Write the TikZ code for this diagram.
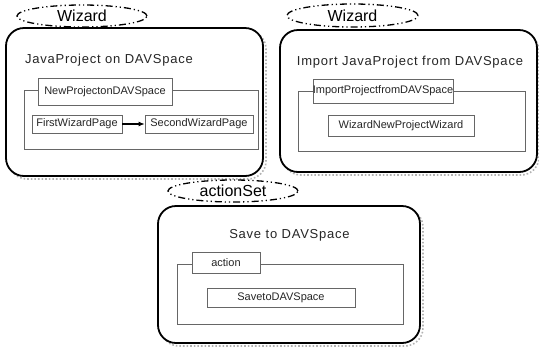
\documentclass[tikz,border=0pt]{standalone}
\usepackage{fontspec}
\setmainfont{Liberation Sans}
\newfontfamily\spacedfont[LetterSpace=6]{Liberation Sans}
\usetikzlibrary{arrows.meta,shapes.geometric}
\begin{document}
\begin{tikzpicture}[x=1pt,y=-1pt,
  panel/.style={draw=black,line width=1.8pt,rounded corners=18pt,minimum width=#1},
  shadowbox/.style={draw=black!30,line width=1.6pt,dotted,rounded corners=18pt},
  tagell/.style={ellipse,draw=black,line width=1.3pt,dash pattern=on 7pt off 3pt on 1.2pt off 3pt on 1.2pt off 3pt,inner sep=0pt,font=\fontsize{16}{18}\selectfont},
  titletext/.style={font=\spacedfont\fontsize{13}{15}\selectfont,text=black!85},
  frame/.style={draw=black!60,line width=0.6pt},
  cbox/.style={draw=black!60,line width=0.6pt,fill=white,inner sep=0pt,font=\fontsize{11}{13}\selectfont,text=black!85},
  conn/.style={draw=black,line width=1.4pt,-{Latex[length=6pt,width=5pt]}}
]
\useasboundingbox (0,0) rectangle (539,349);

% shadows
\draw[shadowbox] (9,31) rectangle (266,179);
\draw[shadowbox] (283,33) rectangle (539,175);
\draw[shadowbox] (161,209) rectangle (423,346);

% outer panels
\node[panel=257pt,minimum height=148pt,fill=white] (p1) at (134.5,102) {};
\node[panel=257pt,minimum height=142pt,fill=white] (p2) at (408.5,101) {};
\node[panel=262pt,minimum height=137pt,fill=white] (p3) at (289,274.5) {};

% tag ellipses
\node[tagell,minimum width=130pt,minimum height=22pt] (e1) at (82,16) {Wizard};
\node[tagell,minimum width=131pt,minimum height=23pt] (e2) at (352.5,15.5) {Wizard};
\node[tagell,minimum width=130pt,minimum height=22pt] (e3) at (233,191) {actionSet};

% titles
\node[titletext] (t1) at (109,60) {JavaProject on DAVSpace};
\node[titletext] (t2) at (410,62) {Import JavaProject from DAVSpace};
\node[titletext] (t3) at (289.5,235) {Save to DAVSpace};

% inner frames
\draw[frame] (24,90) rectangle (258,149);
\draw[frame] (298,91) rectangle (525,151);
\draw[frame] (177,264) rectangle (403,324);

% boxes
\node[cbox,minimum width=134pt,minimum height=27pt] (b1) at (105,91.5) {NewProjectonDAVSpace};
\node[cbox,minimum width=90pt,minimum height=18pt] (b2) at (77,124) {FirstWizardPage};
\node[cbox,minimum width=108pt,minimum height=18pt] (b3) at (199,124) {SecondWizardPage};
\node[cbox,minimum width=140pt,minimum height=24pt] (b4) at (383,91) {ImportProjectfromDAVSpace};
\node[cbox,minimum width=146pt,minimum height=21pt] (b5) at (401,125.5) {WizardNewProjectWizard};
\node[cbox,minimum width=68pt,minimum height=21pt] (b6) at (226,262.5) {action};
\node[cbox,minimum width=148pt,minimum height=19pt] (b7) at (281,297.5) {SavetoDAVSpace};

% connector
\draw[conn] (b2) -- (b3);
\end{tikzpicture}
\end{document}
